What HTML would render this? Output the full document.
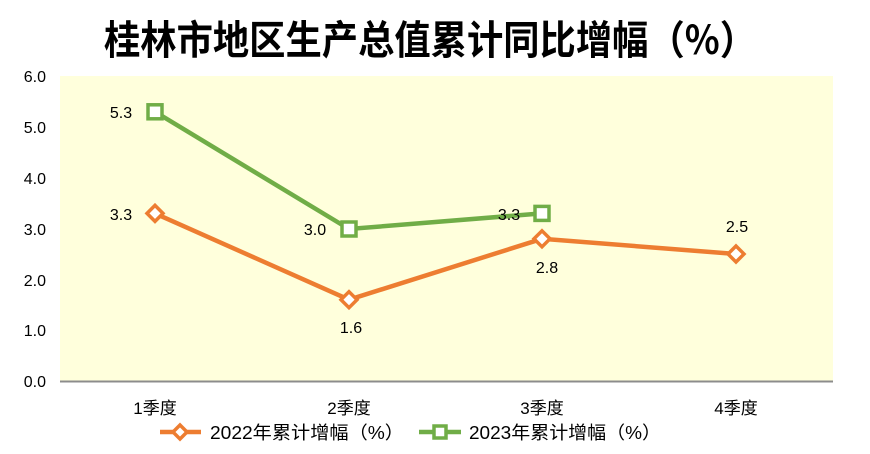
<!DOCTYPE html>
<html><head><meta charset="utf-8"><style>
body{margin:0;background:#fff;}
svg{display:block;}
</style></head><body>
<svg width="870" height="454" xmlns="http://www.w3.org/2000/svg">
<rect width="870" height="454" fill="#fff"/>
<text x="430" y="54" text-anchor="middle" font-family="Noto Sans CJK SC, sans-serif" font-weight="bold" font-size="40" textLength="652" lengthAdjust="spacingAndGlyphs" fill="#000">桂林市地区生产总值累计同比增幅（%）</text>
<rect x="60" y="76" width="773" height="305" fill="#FFFFDC"/>
<line x1="60" y1="381.5" x2="833" y2="381.5" stroke="#8c8c8c" stroke-width="2"/>
<g font-family="Liberation Sans, Noto Sans CJK SC, sans-serif" font-size="16" fill="#000" text-anchor="end">
<text x="46" y="82">6.0</text><text x="46" y="133">5.0</text><text x="46" y="184">4.0</text>
<text x="46" y="235">3.0</text><text x="46" y="286">2.0</text><text x="46" y="336">1.0</text><text x="46" y="387">0.0</text>
</g>
<g font-family="Liberation Sans, Noto Sans CJK SC, sans-serif" font-size="17" fill="#000" text-anchor="middle">
<text x="155" y="414">1季度</text><text x="349" y="414">2季度</text><text x="542" y="414">3季度</text><text x="736" y="414">4季度</text>
</g>
<polyline points="155,213.4 349,299.7 542,238.8 736,254" fill="none" stroke="#ED7D31" stroke-width="4.5"/>
<polyline points="155,111.8 349,229 542,213.4" fill="none" stroke="#70AD47" stroke-width="4.5"/>
<g fill="#fff" stroke="#ED7D31" stroke-width="3.5">
<path d="M155,205.4 L163,213.4 L155,221.4 L147,213.4Z"/>
<path d="M349,291.7 L357,299.7 L349,307.7 L341,299.7Z"/>
<path d="M542,230.8 L550,238.8 L542,246.8 L534,238.8Z"/>
<path d="M736,246 L744,254 L736,262 L728,254Z"/>
</g>
<g fill="#fff" stroke="#70AD47" stroke-width="3.5">
<rect x="148" y="104.8" width="14" height="14"/>
<rect x="342" y="222" width="14" height="14"/>
<rect x="535" y="206.4" width="14" height="14"/>
</g>
<g font-family="Liberation Sans, sans-serif" font-size="16" fill="#000" text-anchor="middle">
<text x="121" y="118">5.3</text><text x="121" y="220">3.3</text>
<text x="315" y="235">3.0</text><text x="351" y="333">1.6</text>
<text x="509" y="220">3.3</text><text x="547" y="273">2.8</text>
<text x="737" y="232">2.5</text>
</g>
<line x1="160" y1="432" x2="201" y2="432" stroke="#ED7D31" stroke-width="4.5"/>
<path d="M180,425 L187,432 L180,439 L173,432Z" fill="#fff" stroke="#ED7D31" stroke-width="3.5"/>
<line x1="419" y1="432" x2="461" y2="432" stroke="#70AD47" stroke-width="4.5"/>
<rect x="434" y="426" width="12" height="12" fill="#fff" stroke="#70AD47" stroke-width="3.5"/>
<g font-family="Liberation Sans, Noto Sans CJK SC, sans-serif" font-size="18" fill="#000">
<text x="210" y="439" textLength="194" lengthAdjust="spacingAndGlyphs">2022年累计增幅（%）</text>
<text x="469" y="439" textLength="192" lengthAdjust="spacingAndGlyphs">2023年累计增幅（%）</text>
</g>
</svg>
</body></html>
